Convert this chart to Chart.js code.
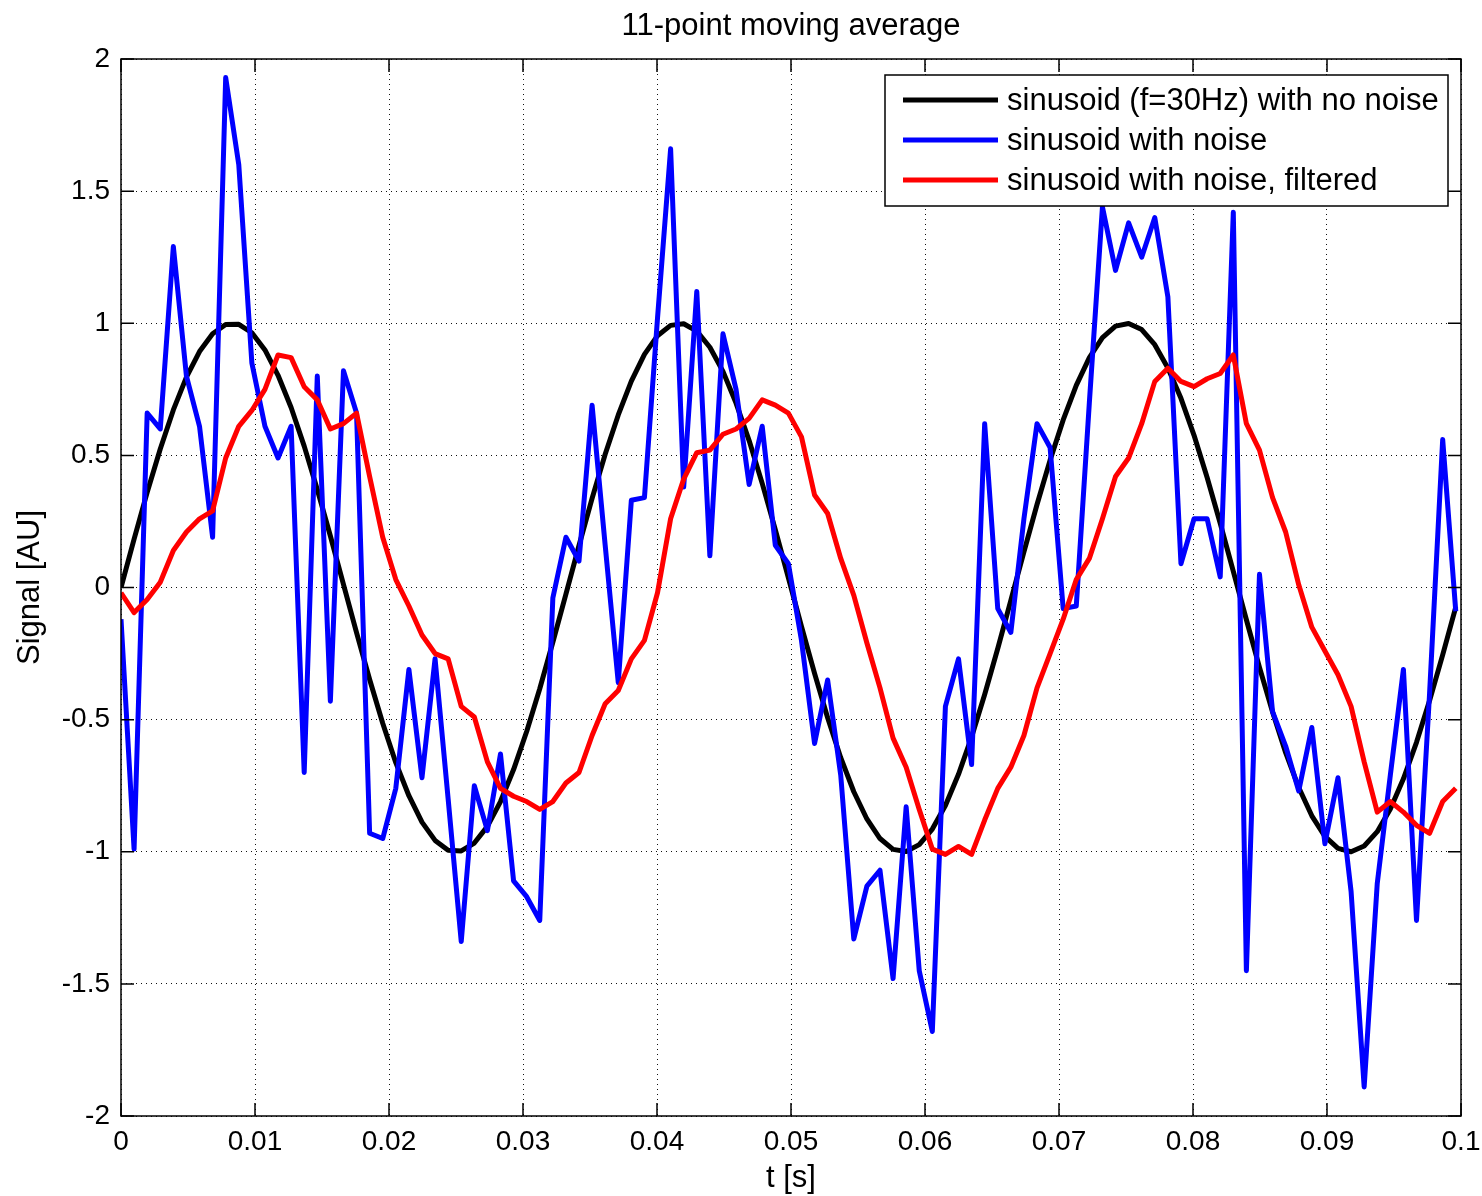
<!DOCTYPE html>
<html>
<head>
<meta charset="utf-8">
<script src="https://cdn.jsdelivr.net/npm/chart.js@4.4.1/dist/chart.umd.min.js"></script>
<style>
  html, body { margin: 0; padding: 0; background: #fff; }
  #wrap { width: 1482px; height: 1196px; position: relative; }
</style>
</head>
<body>
<div id="wrap"><canvas id="chart"></canvas></div>
<script>
// Sampling: 1024 Hz, samples k = 0..102
const sampleRate = 1024;

// Clean sinusoid (f = 30 Hz), read at each sample
const cleanValues = [
  0, 0.183, 0.360, 0.524, 0.672, 0.796, 0.893, 0.960, 0.995, 0.996,
  0.964, 0.899, 0.803, 0.681, 0.535, 0.371, 0.195, 0.012, -0.171, -0.348,
  -0.514, -0.663, -0.788, -0.888, -0.957, -0.994, -0.997, -0.967, -0.904, -0.810,
  -0.689, -0.545, -0.383, -0.207, -0.025, 0.159, 0.337, 0.504, 0.653, 0.781,
  0.882, 0.953, 0.992, 0.998, 0.970, 0.909, 0.818, 0.698, 0.556, 0.394,
  0.219, 0.037, -0.147, -0.325, -0.493, -0.644, -0.773, -0.876, -0.950, -0.991,
  -0.999, -0.973, -0.914, -0.825, -0.707, -0.566, -0.405, -0.231, -0.049, 0.135,
  0.314, 0.482, 0.634, 0.765, 0.870, 0.946, 0.989, 0.999, 0.976, 0.919,
  0.831, 0.716, 0.576, 0.416, 0.243, 0.061, -0.122, -0.302, -0.471, -0.625,
  -0.757, -0.864, -0.942, -0.987, -1.000, -0.978, -0.924, -0.838, -0.724, -0.586,
  -0.428, -0.255, -0.074
];

// Sinusoid with noise
const noisyValues = [
  -0.12, -0.99, 0.66, 0.60, 1.29, 0.80, 0.61, 0.19, 1.93, 1.60,
  0.85, 0.61, 0.49, 0.61, -0.70, 0.80, -0.43, 0.82, 0.66, -0.93,
  -0.95, -0.76, -0.31, -0.72, -0.27, -0.80, -1.34, -0.75, -0.92, -0.63,
  -1.11, -1.17, -1.26, -0.04, 0.19, 0.10, 0.69, 0.16, -0.36, 0.33,
  0.34, 1.02, 1.66, 0.38, 1.12, 0.12, 0.96, 0.75, 0.39, 0.61,
  0.16, 0.09, -0.20, -0.59, -0.35, -0.71, -1.33, -1.13, -1.07, -1.48,
  -0.83, -1.45, -1.68, -0.45, -0.27, -0.67, 0.62, -0.08, -0.17, 0.26,
  0.62, 0.53, -0.08, -0.07, 0.70, 1.44, 1.20, 1.38, 1.25, 1.40,
  1.10, 0.09, 0.26, 0.26, 0.04, 1.42, -1.45, 0.05, -0.47, -0.60,
  -0.77, -0.53, -0.97, -0.72, -1.15, -1.89, -1.12, -0.71, -0.31, -1.26,
  -0.40, 0.56, -0.09
];

// Sinusoid with noise, filtered (11-point moving average)
const filteredValues = [
  -0.02, -0.095, -0.045, 0.02, 0.14, 0.21, 0.26, 0.29, 0.49, 0.61,
  0.67, 0.75, 0.88, 0.87, 0.76, 0.71, 0.60, 0.62, 0.66, 0.42,
  0.19, 0.03, -0.07, -0.18, -0.25, -0.27, -0.45, -0.49, -0.66, -0.76,
  -0.79, -0.81, -0.84, -0.81, -0.74, -0.70, -0.56, -0.44, -0.39, -0.27,
  -0.20, -0.02, 0.26, 0.41, 0.51, 0.52, 0.58, 0.60, 0.64, 0.71,
  0.69, 0.66, 0.57, 0.35, 0.28, 0.11, -0.03, -0.21, -0.38, -0.57,
  -0.68, -0.84, -0.99, -1.01, -0.98, -1.01, -0.88, -0.76, -0.68, -0.56,
  -0.38, -0.25, -0.12, 0.03, 0.11, 0.26, 0.42, 0.49, 0.62, 0.78,
  0.83, 0.78, 0.76, 0.79, 0.81, 0.88, 0.62, 0.52, 0.34, 0.21,
  0.01, -0.15, -0.24, -0.33, -0.45, -0.66, -0.85, -0.81, -0.85, -0.90,
  -0.93, -0.81, -0.76
];

const seriesLabels = [
  'sinusoid (f=30Hz) with no noise',
  'sinusoid with noise',
  'sinusoid with noise, filtered'
];
const seriesColors = ['#000000', '#0000ff', '#ff0000'];

const xTicks = [0, 0.01, 0.02, 0.03, 0.04, 0.05, 0.06, 0.07, 0.08, 0.09, 0.1];
const yTicks = [-2, -1.5, -1, -0.5, 0, 0.5, 1, 1.5, 2];

const FONT = '"Liberation Sans", Arial, Helvetica, sans-serif';

function toPoints(values) {
  return values.map((v, k) => ({ x: k / sampleRate, y: v }));
}

function fmt(v) {
  return String(parseFloat(v.toFixed(3)));
}

// frame, inward ticks, title and legend like the original figure
const figurePlugin = {
  id: 'figure',
  afterDraw(chart) {
    const { ctx, chartArea: a, scales } = chart;
    ctx.save();
    // frame
    ctx.strokeStyle = '#000';
    ctx.lineWidth = 1.5;
    ctx.strokeRect(a.left, a.top, a.right - a.left, a.bottom - a.top);

    // inward tick marks
    const len = 13;
    ctx.beginPath();
    xTicks.forEach(t => {
      const px = scales.x.getPixelForValue(t);
      ctx.moveTo(px, a.bottom); ctx.lineTo(px, a.bottom - len);
      ctx.moveTo(px, a.top); ctx.lineTo(px, a.top + len);
    });
    yTicks.forEach(t => {
      const py = scales.y.getPixelForValue(t);
      ctx.moveTo(a.left, py); ctx.lineTo(a.left + len, py);
      ctx.moveTo(a.right, py); ctx.lineTo(a.right - len, py);
    });
    ctx.stroke();

    // title
    ctx.fillStyle = '#000';
    ctx.font = '31px ' + FONT;
    ctx.textAlign = 'center';
    ctx.textBaseline = 'middle';
    ctx.fillText('11-point moving average', (a.left + a.right) / 2, 26);

    // legend
    const bx = 885, by = 75, bw = 563, bh = 131;
    ctx.fillStyle = '#fff';
    ctx.fillRect(bx, by, bw, bh);
    ctx.strokeStyle = '#000';
    ctx.lineWidth = 1.5;
    ctx.strokeRect(bx, by, bw, bh);
    ctx.font = '31px ' + FONT;
    ctx.textAlign = 'left';
    seriesLabels.forEach((label, i) => {
      const y = by + 25 + i * 40;
      ctx.strokeStyle = seriesColors[i];
      ctx.lineWidth = 5;
      ctx.beginPath();
      ctx.moveTo(903, y);
      ctx.lineTo(998, y);
      ctx.stroke();
      ctx.fillStyle = '#000';
      ctx.fillText(label, 1007, y + 1);
    });
    ctx.restore();
  }
};

const datasets = [cleanValues, noisyValues, filteredValues].map((vals, i) => ({
  label: seriesLabels[i],
  data: toPoints(vals),
  borderColor: seriesColors[i],
  backgroundColor: seriesColors[i],
  borderWidth: 5,
  pointRadius: 0,
  showLine: true,
  fill: false,
  tension: 0,
  borderJoinStyle: 'round',
  order: 3 - i
}));

new Chart(document.getElementById('chart'), {
  type: 'scatter',
  data: { datasets },
  options: {
    responsive: true,
    maintainAspectRatio: false,
    animation: false,
    layout: { padding: { top: 59, right: 21, left: 0, bottom: 0 } },
    plugins: {
      legend: { display: false },
      tooltip: { enabled: false },
      title: { display: false }
    },
    scales: {
      x: {
        type: 'linear',
        min: 0,
        max: 0.1,
        afterFit: s => { s.height = 80; s.paddingLeft = 0; s.paddingRight = 0; },
        afterBuildTicks: s => { s.ticks = xTicks.map(v => ({ value: v })); },
        ticks: {
          padding: 9,
          color: '#000',
          font: { family: FONT, size: 28 },
          maxRotation: 0,
          callback: v => fmt(v)
        },
        grid: { color: '#111', lineWidth: 1, drawTicks: false },
        border: { display: false, dash: [1, 4] },
        title: {
          display: true,
          text: 't [s]',
          color: '#000',
          font: { family: FONT, size: 31 },
          padding: { top: 0, bottom: -1 }
        }
      },
      y: {
        type: 'linear',
        min: -2,
        max: 2,
        afterFit: s => { s.width = 121; s.paddingTop = 0; s.paddingBottom = 0; },
        afterBuildTicks: s => { s.ticks = yTicks.map(v => ({ value: v })); },
        ticks: {
          padding: 11,
          color: '#000',
          font: { family: FONT, size: 28 },
          callback: v => fmt(v)
        },
        grid: { color: '#111', lineWidth: 1, drawTicks: false },
        border: { display: false, dash: [1, 4] },
        title: {
          display: true,
          text: 'Signal [AU]',
          color: '#000',
          font: { family: FONT, size: 31 },
          padding: { top: 12, bottom: 0 }
        }
      }
    }
  },
  plugins: [figurePlugin]
});
</script>
</body>
</html>
